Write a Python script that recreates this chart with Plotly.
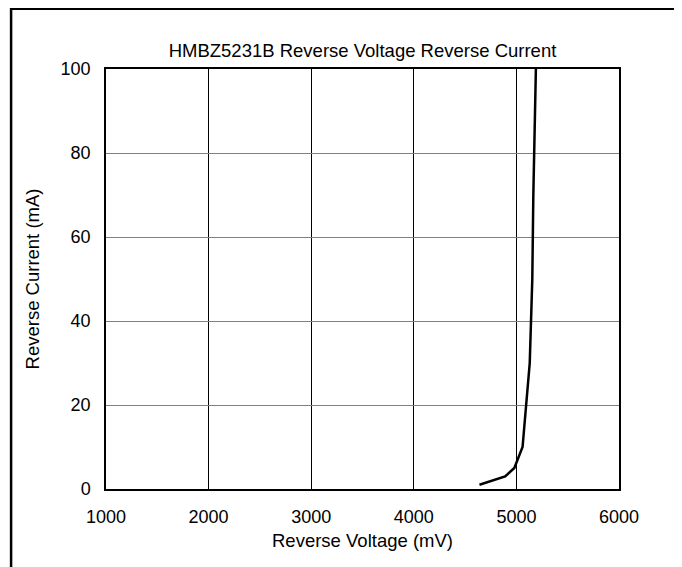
import plotly.graph_objects as go

voltage_mv = [4640, 4890, 4980, 5060, 5130, 5155, 5165, 5190]
current_ma = [1, 3, 5, 10, 30, 50, 70, 100]
x_ticks = [1000, 2000, 3000, 4000, 5000, 6000]
y_ticks = [0, 20, 40, 60, 80, 100]

# page offset: the browser body has an 8px margin
OFF = 8
W, H = 682, 567
ml, mr, mt, mb = 105.5 - OFF, 63 + OFF, 69 - OFF, 78 + OFF
pw, ph = W - ml - mr, H - mt - mb

def px_to_paper_x(px):
    return (px - OFF - ml) / pw

def px_to_paper_y(py):
    return (H - mb - (py - OFF)) / ph

fig = go.Figure()
fig.add_trace(go.Scatter(x=voltage_mv, y=current_ma, mode="lines",
                         line=dict(color="black", width=2.5), showlegend=False))

FS = 18
font = dict(family="Liberation Sans, Arial, sans-serif", size=FS, color="black")
fig.update_layout(
    width=W, height=H,
    margin=dict(l=ml, r=mr, t=mt, b=mb, autoexpand=False),
    paper_bgcolor="white", plot_bgcolor="white",
    font=font,
    title=dict(text="HMBZ5231B Reverse Voltage Reverse Current", x=0.5, xanchor="center",
               xref="paper",
               y=1 - (51 - OFF) / H, yanchor="middle", font=dict(size=18.5)),
    xaxis=dict(range=[1000, 6000], tickvals=x_ticks, showgrid=True, gridcolor="black",
               gridwidth=1, showline=True, linecolor="black", linewidth=1.5, mirror=True,
               zeroline=False, ticks="", ticklabelstandoff=11, tickfont=dict(size=FS)),
    yaxis=dict(range=[0, 100], tickvals=y_ticks, showgrid=True, gridcolor="#808080",
               gridwidth=1, showline=True, linecolor="black", linewidth=1.5, mirror=True,
               zeroline=False, ticks="", ticklabelstandoff=10, tickfont=dict(size=FS),
               title=dict(text="Reverse Current (mA)", standoff=16, font=dict(size=18.5))),
    annotations=[dict(text="Reverse Voltage (mV)", xref="paper", yref="paper",
                      x=0.5, y=px_to_paper_y(540), xanchor="center", yanchor="middle",
                      showarrow=False, font=dict(size=18.5))],
    shapes=[dict(type="rect", xref="paper", yref="paper",
                 x0=px_to_paper_x(10.5), x1=px_to_paper_x(676),
                 y0=px_to_paper_y(570), y1=px_to_paper_y(8.7),
                 line=dict(color="black", width=2.5), fillcolor="rgba(0,0,0,0)", layer="above")],
)

fig.write_html("out.html")
